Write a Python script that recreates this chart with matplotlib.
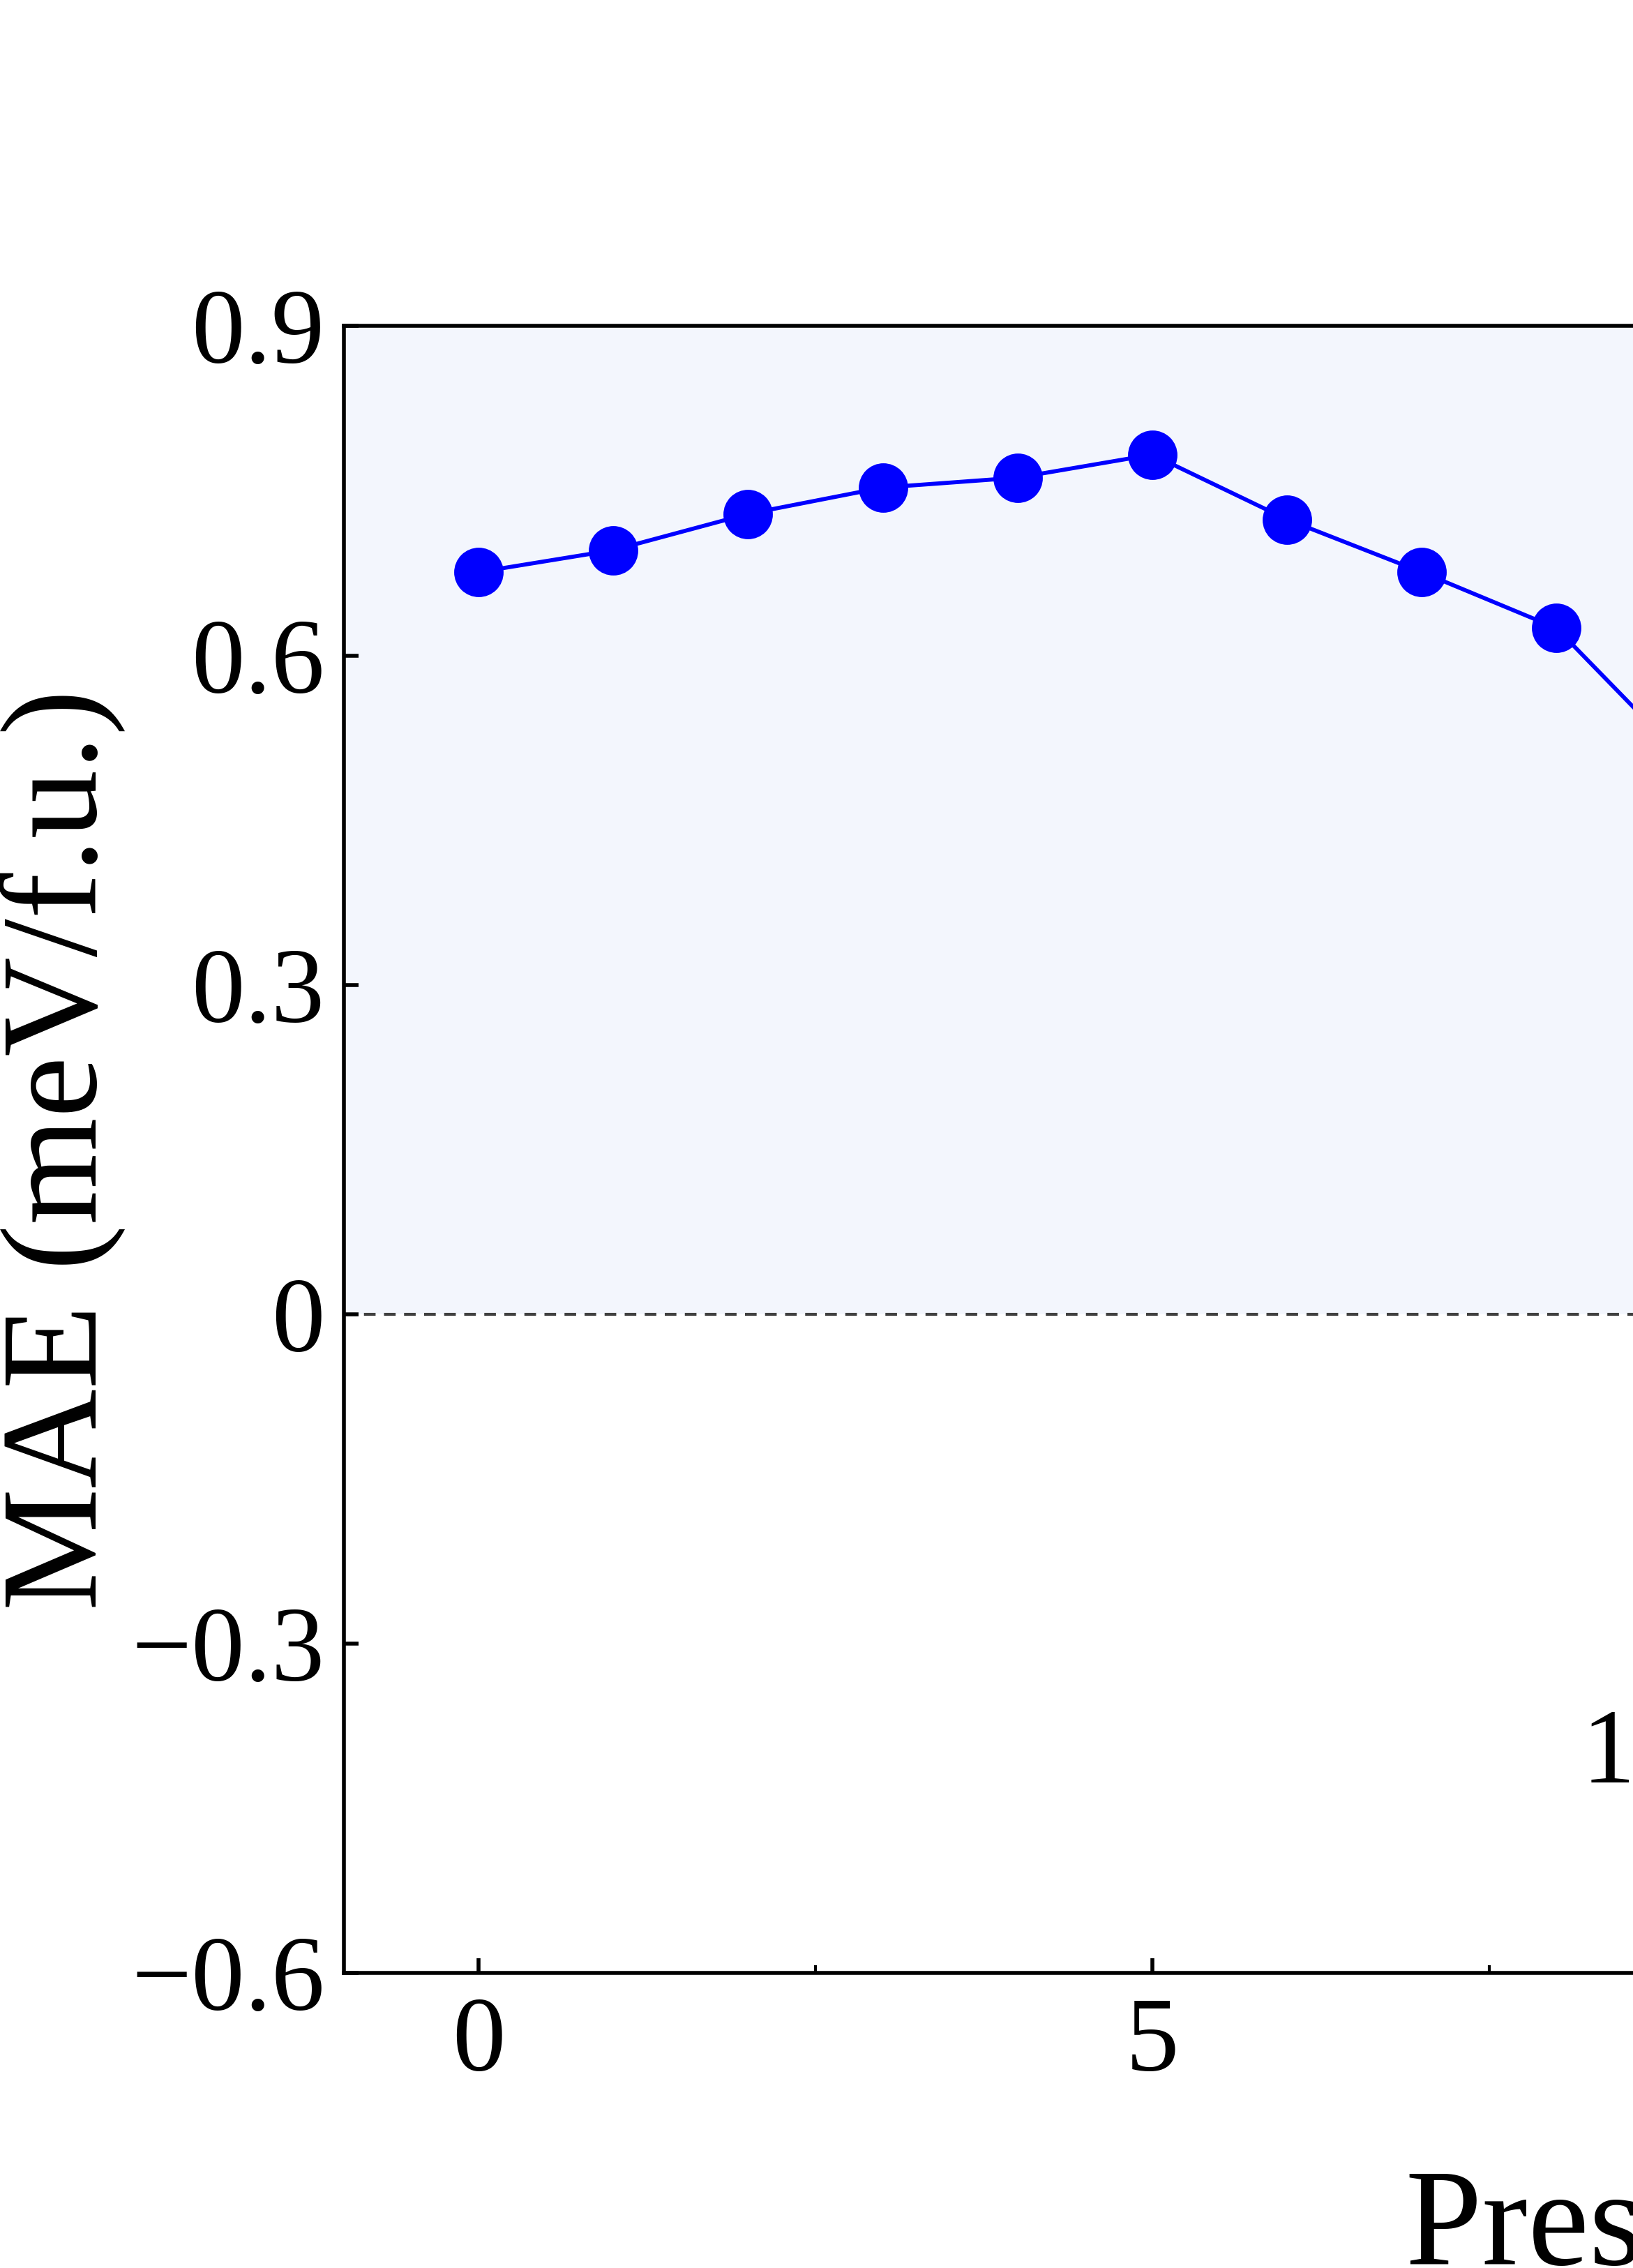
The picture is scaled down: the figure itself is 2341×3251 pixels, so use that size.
import matplotlib
matplotlib.use("Agg")
import matplotlib.pyplot as plt
import matplotlib.transforms as mtransforms
import numpy as np

# data (panel is cropped on the right)
pressure = [0, 1, 2, 3, 4, 5, 6, 7, 8, 9]
mae = [0.676, 0.696, 0.729, 0.753, 0.762, 0.783, 0.724, 0.676, 0.625, 0.499]
y_ticks = [-0.6, -0.3, 0, 0.3, 0.6, 0.9]
y_ticklabels = ["\u22120.6", "\u22120.3", "0", "0.3", "0.6", "0.9"]
x_ticks = [0, 5, 10]
x_minor = [2.5, 7.5]

plt.rcParams['font.family'] = ['Liberation Serif', 'DejaVu Serif']

fig = plt.figure(figsize=(23.41, 32.51), dpi=100)
# axes runs past the right edge of the canvas, as in the cropped original
ax = fig.add_axes([0.2106, 0.1300, 0.9900, 0.7262])

ax.set_xlim(-1, 11)
ax.set_ylim(-0.6, 0.9)

# shaded positive region and zero line
ax.axhspan(0, 0.9, color='#f3f6fd', zorder=0, lw=0)
zl, = ax.plot([-1, 11], [0, 0], color='#404040', lw=3, zorder=1)
zl.set_dashes([4.0, 2.9])

ax.plot(pressure, mae, color='#0000ff', lw=4.2, marker='o', ms=51,
        mew=0, zorder=3)

ax.text(8.19, -0.426, "1", fontsize=110, ha='left', va='baseline')

ax.set_xticks(x_ticks)
ax.set_xticks(x_minor, minor=True)
ax.set_yticks(y_ticks)
ax.set_yticklabels(y_ticklabels)

ax.tick_params(which='major', direction='in', length=15, width=4,
               labelsize=110)
ax.tick_params(axis='x', which='major', pad=24)
ax.tick_params(axis='y', which='major', pad=20)
ax.tick_params(which='minor', direction='in', length=8, width=3)

for s in ax.spines.values():
    s.set_linewidth(4)

ax.set_ylabel("MAE (meV/f.u.)", fontsize=142, labelpad=6)
ax.set_xlabel("Pressure (GPa)", fontsize=142, ha='left', va='baseline')
ax.xaxis.set_label_coords(
    6.88, -0.1768,
    transform=mtransforms.blended_transform_factory(ax.transData, ax.transAxes))

fig.savefig("out.png", dpi=100)
